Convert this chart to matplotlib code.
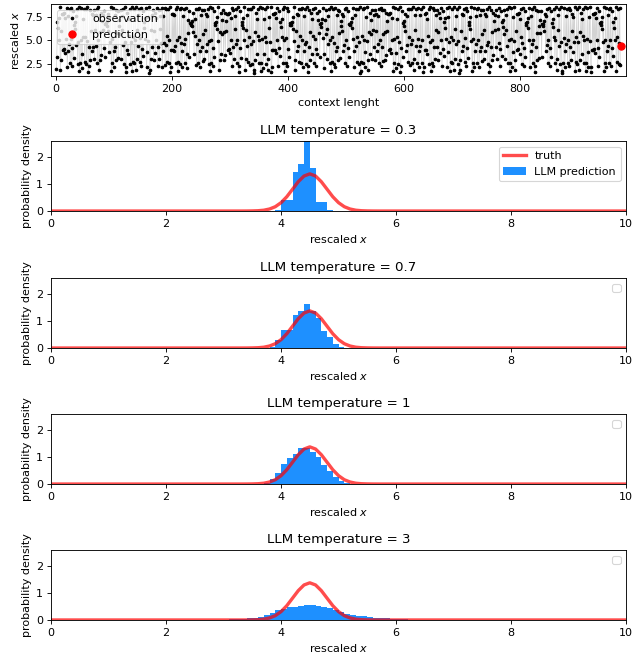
import matplotlib
matplotlib.use("Agg")
import matplotlib.pyplot as plt

observations = [
    2.0, 3.3, 6.9, 6.3, 7.4, 5.0, 8.5, 1.9, 2.9, 6.0, 7.8, 4.0, 7.8, 4.1, 7.9, 3.7, 7.4, 5.2, 8.4, 2.2, 3.9, 7.6, 4.6, 8.3, 2.6,
    5.2, 8.4, 2.3, 4.2, 8.1, 3.2, 6.6, 6.9, 6.2, 7.6, 4.5, 8.3, 2.5, 4.8, 8.5, 1.8, 2.6, 5.1, 8.4, 2.1, 3.6, 7.3, 5.4, 8.3, 2.7,
    5.4, 8.3, 2.5, 4.9, 8.5, 1.7, 2.3, 4.3, 8.2, 2.9, 6.0, 7.8, 3.9, 7.7, 4.3, 8.2, 3.0, 6.1, 7.7, 4.4, 8.3, 2.6, 5.0, 8.5, 1.9,
    2.9, 5.9, 7.9, 3.5, 7.1, 6.1, 7.7, 4.2, 8.1, 3.3, 6.7, 6.8, 6.5, 7.1, 6.0, 7.8, 3.8, 7.5, 4.8, 8.5, 1.8, 2.6, 5.2, 8.4, 2.2,
    3.9, 7.7, 4.3, 8.2, 2.9, 5.8, 8.1, 3.2, 6.5, 7.2, 5.7, 8.2, 3.0, 6.1, 7.6, 4.5, 8.3, 2.5, 4.8, 8.5, 1.7, 2.2, 4.0, 7.9, 3.6,
    7.3, 5.5, 8.3, 2.5, 4.8, 8.5, 1.8, 2.7, 5.4, 8.3, 2.6, 5.0, 8.5, 1.9, 3.0, 6.1, 7.7, 4.4, 8.3, 2.7, 5.3, 8.4, 2.3, 4.1, 8.1,
    3.4, 6.9, 6.3, 7.4, 5.2, 8.4, 2.2, 3.8, 7.5, 4.9, 8.5, 1.6, 1.9, 3.0, 6.1, 7.7, 4.3, 8.2, 2.9, 6.0, 7.9, 3.7, 7.4, 5.1, 8.4,
    2.3, 4.3, 8.2, 3.0, 6.2, 7.6, 4.7, 8.4, 2.2, 3.9, 7.6, 4.7, 8.4, 2.4, 4.5, 8.3, 2.7, 5.5, 8.3, 2.6, 5.0, 8.5, 1.7, 2.2, 4.0,
    7.8, 4.0, 7.8, 3.9, 7.7, 4.4, 8.3, 2.6, 5.1, 8.5, 1.8, 2.7, 5.4, 8.3, 2.5, 4.7, 8.4, 2.2, 3.9, 7.6, 4.6, 8.3, 2.6, 5.2, 8.4,
    2.1, 3.6, 7.2, 5.8, 8.1, 3.3, 6.8, 6.6, 6.8, 6.5, 7.1, 5.9, 7.9, 3.6, 7.3, 5.5, 8.3, 2.4, 4.6, 8.3, 2.6, 5.1, 8.4, 2.2, 3.9,
    7.7, 4.3, 8.2, 2.8, 5.7, 8.2, 3.0, 6.1, 7.8, 3.9, 7.6, 4.6, 8.3, 2.5, 4.9, 8.5, 1.8, 2.6, 5.1, 8.4, 2.3, 4.2, 8.1, 3.3, 6.8,
    6.6, 6.9, 6.2, 7.5, 4.9, 8.5, 1.9, 2.9, 5.9, 7.9, 3.6, 7.2, 5.7, 8.2, 2.9, 5.9, 7.9, 3.5, 7.1, 6.0, 7.8, 4.0, 7.8, 4.1, 7.9,
    3.7, 7.4, 5.1, 8.4, 2.3, 4.3, 8.2, 3.0, 6.2, 7.6, 4.6, 8.3, 2.6, 5.1, 8.5, 1.7, 2.3, 4.2, 8.1, 3.2, 6.6, 6.9, 6.3, 7.4, 5.0,
    8.5, 1.9, 3.0, 6.1, 7.7, 4.4, 8.3, 2.7, 5.4, 8.3, 2.4, 4.6, 8.3, 2.5, 4.9, 8.5, 1.6, 1.9, 2.9, 5.9, 7.9, 3.6, 7.3, 5.5, 8.3,
    2.6, 5.0, 8.5, 1.8, 2.6, 5.2, 8.4, 2.1, 3.6, 7.3, 5.4, 8.3, 2.5, 4.8, 8.5, 1.9, 3.1, 6.3, 7.5, 4.8, 8.5, 1.7, 2.2, 4.0, 7.8,
    4.0, 7.8, 4.0, 7.9, 3.7, 7.4, 5.1, 8.4, 2.3, 4.2, 8.1, 3.4, 6.9, 6.4, 7.3, 5.4, 8.3, 2.6, 5.0, 8.5, 1.8, 2.6, 5.3, 8.4, 2.3,
    4.1, 8.1, 3.3, 6.8, 6.6, 6.8, 6.6, 7.0, 6.2, 7.5, 4.9, 8.5, 1.9, 2.9, 6.0, 7.8, 3.9, 7.7, 4.4, 8.3, 2.7, 5.5, 8.3, 2.6, 5.1,
    8.4, 2.2, 3.9, 7.6, 4.6, 8.3, 2.5, 4.8, 8.5, 1.7, 2.3, 4.3, 8.2, 2.9, 5.9, 7.9, 3.6, 7.3, 5.5, 8.3, 2.6, 5.2, 8.4, 2.3, 4.1,
    7.9, 3.6, 7.2, 5.8, 8.1, 3.3, 6.7, 6.8, 6.4, 7.3, 5.3, 8.4, 2.1, 3.6, 7.2, 5.7, 8.2, 3.0, 6.2, 7.6, 4.6, 8.3, 2.6, 5.0, 8.5,
    1.8, 2.7, 5.4, 8.3, 2.5, 4.7, 8.4, 2.2, 3.9, 7.7, 4.3, 8.2, 2.9, 5.8, 8.1, 3.2, 6.5, 7.1, 6.0, 7.8, 3.9, 7.6, 4.5, 8.3, 2.6,
    5.1, 8.4, 2.3, 4.2, 8.1, 3.3, 6.7, 6.7, 6.6, 6.9, 6.3, 7.4, 5.2, 8.4, 2.2, 3.9, 7.7, 4.4, 8.3, 2.7, 5.4, 8.3, 2.5, 4.8, 8.5,
    1.6, 1.8, 2.7, 5.5, 8.3, 2.6, 5.1, 8.4, 2.2, 3.8, 7.5, 4.9, 8.5, 1.9, 2.9, 5.9, 7.9, 3.6, 7.2, 5.7, 8.2, 3.0, 6.1, 7.7, 4.3,
    8.2, 2.9, 6.0, 7.8, 3.9, 7.6, 4.6, 8.3, 2.6, 5.1, 8.4, 2.3, 4.3, 8.2, 2.8, 5.7, 8.2, 2.9, 5.9, 7.9, 3.5, 7.1, 6.0, 7.8, 4.0,
    7.8, 4.1, 7.9, 3.7, 7.4, 5.0, 8.5, 1.8, 2.6, 5.2, 8.4, 2.1, 3.7, 7.3, 5.4, 8.3, 2.5, 4.8, 8.5, 1.7, 2.3, 4.2, 8.1, 3.3, 6.8,
    6.5, 7.1, 6.0, 7.8, 3.9, 7.6, 4.5, 8.3, 2.7, 5.4, 8.3, 2.4, 4.6, 8.3, 2.6, 5.0, 8.5, 1.9, 3.0, 6.1, 7.7, 4.4, 8.3, 2.6, 5.2,
    8.4, 2.2, 3.9, 7.7, 4.4, 8.3, 2.6, 5.1, 8.5, 1.7, 2.2, 4.0, 7.8, 4.0, 7.9, 3.6, 7.3, 5.5, 8.3, 2.5, 4.8, 8.5, 1.8, 2.6, 5.1,
    8.4, 2.3, 4.3, 8.2, 3.0, 6.1, 7.7, 4.3, 8.2, 2.9, 5.9, 7.9, 3.7, 7.4, 5.1, 8.4, 2.3, 4.1, 8.1, 3.4, 6.9, 6.3, 7.4, 5.2, 8.4,
    2.2, 3.8, 7.5, 4.8, 8.5, 1.8, 2.7, 5.4, 8.3, 2.6, 5.0, 8.5, 1.9, 3.0, 6.2, 7.6, 4.6, 8.3, 2.5, 4.9, 8.5, 1.6, 1.9, 2.9, 6.0,
    7.8, 3.9, 7.7, 4.4, 8.3, 2.7, 5.3, 8.4, 2.3, 4.2, 8.1, 3.2, 6.6, 6.9, 6.2, 7.5, 4.9, 8.5, 1.8, 2.6, 5.2, 8.4, 2.2, 3.9, 7.6,
    4.6, 8.3, 2.6, 5.1, 8.4, 2.2, 3.9, 7.7, 4.3, 8.2, 2.8, 5.7, 8.2, 3.0, 6.1, 7.8, 3.9, 7.6, 4.5, 8.3, 2.5, 4.8, 8.5, 1.7, 2.3,
    4.3, 8.2, 2.9, 5.9, 7.9, 3.5, 7.1, 6.1, 7.7, 4.3, 8.2, 3.0, 6.2, 7.6, 4.7, 8.4, 2.3, 4.1, 8.1, 3.4, 6.9, 6.4, 7.2, 5.7, 8.2,
    3.0, 6.1, 7.7, 4.4, 8.3, 2.6, 5.1, 8.5, 1.8, 2.6, 5.2, 8.4, 2.2, 3.8, 7.5, 4.9, 8.5, 1.9, 2.9, 6.0, 7.8, 4.0, 7.8, 4.1, 7.9,
    3.6, 7.3, 5.4, 8.3, 2.5, 4.7, 8.4, 2.3, 4.2, 8.1, 3.3, 6.8, 6.6, 6.9, 6.3, 7.4, 5.1, 8.4, 2.2, 3.9, 7.6, 4.6, 8.3, 2.6, 5.1,
    8.5, 1.7, 2.3, 4.3, 8.2, 2.9, 5.8, 8.1, 3.2, 6.5, 7.2, 5.8, 8.1, 3.3, 6.7, 6.7, 6.5, 7.1, 6.0, 7.8, 3.9, 7.6, 4.5, 8.3, 2.6,
    5.1, 8.4, 2.3, 4.2, 8.1, 3.3, 6.8, 6.4, 7.3, 5.4, 8.3, 2.6, 5.0, 8.5, 1.9, 3.0, 6.1, 7.7, 4.4, 8.3, 2.5, 4.8, 8.5, 1.6, 1.8,
    2.6, 5.3, 8.4, 2.2, 3.9, 7.6, 4.6, 8.3, 2.6, 5.1, 8.4, 2.3, 4.3, 8.2, 2.9, 6.0, 7.8, 3.8, 7.5, 4.8, 8.5, 1.8, 2.7, 5.4, 8.3,
    2.5, 4.8, 8.5, 1.9, 2.9, 5.9, 7.9, 3.6, 7.3, 5.5, 8.3, 2.6, 5.0, 8.5, 1.8, 2.6, 5.2, 8.4, 2.2, 3.8, 7.5, 4.9, 8.5, 1.7, 2.2,
    4.0, 7.8, 4.0, 7.8, 4.1, 7.9, 3.7, 7.4, 5.1, 8.4, 2.3, 4.2, 8.1, 3.3, 6.8, 6.6, 6.9, 6.2, 7.5, 4.8, 8.5, 1.8, 2.6, 5.1, 8.4,
    2.2, 3.9, 7.7, 4.4, 8.3, 2.6, 5.1, 8.4, 2.3, 4.2, 8.1, 3.4, 6.9, 6.3, 7.4, 5.0, 8.5, 1.8, 2.7, 5.4, 8.3, 2.5, 4.7, 8.4, 2.4,
]
prediction = 4.45

# true density of the next value
truth_x = [0.0, 3.3, 3.4, 3.5, 3.6, 3.7, 3.8, 3.9, 4.0, 4.1, 4.2, 4.3, 4.4, 4.5,
           4.6, 4.7, 4.8, 4.9, 5.0, 5.1, 5.2, 5.3, 5.4, 5.5, 5.6, 5.7, 10.0]
truth_y = [0.0, 0.0, 0.001, 0.004, 0.011, 0.03, 0.075, 0.16, 0.31, 0.53, 0.81, 1.09, 1.30,
           1.38, 1.30, 1.09, 0.81, 0.53, 0.31, 0.16, 0.075, 0.03, 0.011, 0.004, 0.001, 0.0, 0.0]

# LLM predicted histograms (bin left edge, density), bin width 0.1
temperatures = ["0.3", "0.7", "1", "3"]
hist_03_x = [3.9, 4.0, 4.1, 4.2, 4.3, 4.4, 4.5, 4.6, 4.7, 4.8]
hist_03_h = [0.04, 0.4, 0.4, 1.45, 1.75, 3.6, 1.6, 0.35, 0.35, 0.05]
hist_07_x = [3.8, 3.9, 4.0, 4.1, 4.2, 4.3, 4.4, 4.5, 4.6, 4.7, 4.8, 4.9, 5.0]
hist_07_h = [0.05, 0.3, 0.67, 0.67, 1.23, 1.36, 1.63, 1.36, 1.1, 0.64, 0.4, 0.15, 0.05]
hist_1_x = [3.7, 3.8, 3.9, 4.0, 4.1, 4.2, 4.3, 4.4, 4.5, 4.6, 4.7, 4.8, 4.9, 5.0, 5.1]
hist_1_h = [0.05, 0.18, 0.42, 0.73, 0.95, 1.1, 1.32, 1.35, 1.2, 1.0, 0.7, 0.48, 0.27, 0.1, 0.04]
hist_3_x = [2.8, 2.9, 3.0, 3.1, 3.2, 3.3, 3.4, 3.5, 3.6, 3.7, 3.8, 3.9, 4.0, 4.1, 4.2, 4.3,
            4.4, 4.5, 4.6, 4.7, 4.8, 4.9, 5.0, 5.1, 5.2, 5.3, 5.4, 5.5, 5.6, 5.7, 5.8, 5.9,
            6.0, 6.1, 6.2, 6.3]
hist_3_h = [0.005, 0.01, 0.015, 0.02, 0.04, 0.05, 0.07, 0.09, 0.12, 0.17, 0.25, 0.36, 0.42,
            0.47, 0.5, 0.53, 0.56, 0.55, 0.53, 0.5, 0.45, 0.38, 0.3, 0.24, 0.19, 0.16, 0.13,
            0.11, 0.09, 0.07, 0.06, 0.05, 0.04, 0.03, 0.01, 0.005]
hists = [(hist_03_x, hist_03_h), (hist_07_x, hist_07_h),
         (hist_1_x, hist_1_h), (hist_3_x, hist_3_h)]

DPI = 80
fig = plt.figure(figsize=(644 / DPI, 658 / DPI), dpi=DPI)

ax = fig.add_axes([0.0792, 0.8845, 0.893, 0.1094])
t = list(range(len(observations)))
ax.plot(t, observations, color="lightgray", lw=0.6)
ax.plot(t, observations, "k.", ms=4.5, label="observation")
ax.plot([len(observations)], [prediction], "ro", ms=6.5, label="prediction")
ax.set_xlim(-9, 984)
ax.set_xlabel("context lenght")
ax.set_ylabel("rescaled $x$")
ax.legend(loc="upper left")

bottoms = [0.6793, 0.4711, 0.2644, 0.0578]
for i, (temp, (hx, hh)) in enumerate(zip(temperatures, hists)):
    a = fig.add_axes([0.0792, bottoms[i], 0.893, 0.1064])
    if i == 0:
        a.bar(hx, hh, width=0.1, align="edge", color="dodgerblue", label="LLM prediction")
        a.plot(truth_x, truth_y, color="red", lw=3, alpha=0.7, label="truth")
    else:
        a.bar(hx, hh, width=0.1, align="edge", color="dodgerblue")
        a.plot(truth_x, truth_y, color="red", lw=3, alpha=0.7)
    a.set_xlim(0, 10)
    a.set_ylim(0, 2.6)
    a.set_title("LLM temperature = " + temp)
    a.set_xlabel("rescaled $x$")
    a.set_ylabel("probability density")
    a.legend(loc="upper right")

fig.savefig("out.png", dpi=DPI)
